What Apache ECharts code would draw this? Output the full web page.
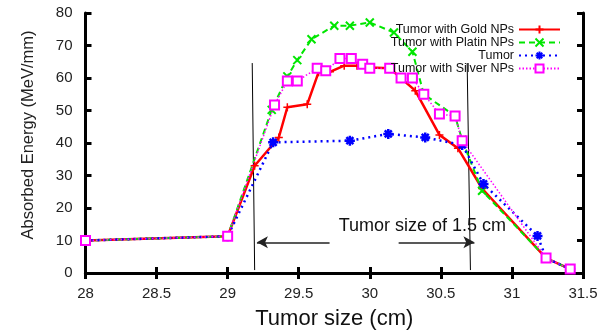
<!DOCTYPE html>
<html>
<head>
<meta charset="utf-8">
<script src="https://cdn.jsdelivr.net/npm/echarts@6/dist/echarts.min.js"></script>
<style>
  html, body { margin: 0; padding: 0; background: #fff; }
  #main { width: 615px; height: 333px; }
</style>
</head>
<body>
<div id="main"></div>
<script>
// data
var goldX = [28, 29, 29.19, 29.36, 29.42, 29.56, 29.64, 29.72, 29.82, 29.91, 30.0, 30.14, 30.32, 30.49, 30.62, 30.79, 31.24, 31.41];
var goldY = [10, 11.3, 33, 41.7, 51, 51.9, 61.8, 61.9, 63.8, 63.8, 63.2, 63, 56.1, 42.5, 38.4, 26, 4.6, 1.2];

var platinX = [28, 29, 29.31, 29.42, 29.49, 29.59, 29.75, 29.86, 30.0, 30.17, 30.30, 30.38, 30.6, 30.65, 30.79, 31.24, 31.41];
var platinY = [10, 11.3, 50.2, 60.5, 65.5, 71.9, 76.1, 76.1, 77.1, 74, 68.1, 55, 48.3, 40.9, 25.3, 4.6, 1.2];

var tumorX = [28, 29, 29.32, 29.86, 30.13, 30.39, 30.65, 30.8, 31.18, 31.24, 31.41];
var tumorY = [10, 11.3, 40.2, 40.7, 42.8, 41.7, 39.4, 27.4, 11.4, 4.6, 1.2];

var silverX = [28, 29, 29.33, 29.42, 29.49, 29.63, 29.69, 29.79, 29.87, 29.95, 30.0, 30.14, 30.22, 30.3, 30.38, 30.49, 30.6, 30.65, 31.24, 31.41];
var silverY = [10, 11.3, 51.7, 59.1, 59.1, 63, 62.2, 66, 66, 64.2, 63, 63, 60, 60, 55, 48.9, 48.3, 40.7, 4.6, 1.2];

var names = ['Tumor with Gold NPs', 'Tumor with Platin NPs', 'Tumor', 'Tumor with Silver NPs'];

// tumor borders (1.5 cm) and arrows
var leftBorder = [[29.173, 64.6], [29.19, 0.9]];
var rightBorder = [[30.685, 64.6], [30.708, 0.9]];
var leftArrow = [[29.717, 9.45], [29.206, 9.45]];
var rightArrow = [[30.203, 9.45], [30.736, 9.45]];
var noteText = 'Tumor size of 1.5 cm';
var notePos = [30.37, 14.6];

function pairs(xs, ys) {
  var out = [];
  for (var i = 0; i < xs.length; i++) out.push([xs[i], ys[i]]);
  return out;
}

var font = 'Liberation Sans';
var plus = 'path://M5,0L5,10M0,5L10,5';
var cross = 'path://M0,0L10,10M10,0L0,10';
var aster = 'path://M5,0L5,10M0,5L10,5M1.5,1.5L8.5,8.5M8.5,1.5L1.5,8.5';

var myChart = echarts.init(document.getElementById('main'));

function axisX(pos, showLabel) {
  return {
    type: 'value', position: pos, min: 28, max: 31.5, interval: 0.5,
    name: showLabel ? 'Tumor size (cm)' : '',
    nameLocation: 'middle', nameGap: 35,
    nameTextStyle: { fontFamily: font, fontSize: 22, color: '#111' },
    axisLine: { show: true, lineStyle: { color: '#000', width: 3 } },
    axisTick: { show: true, inside: true, length: 6, lineStyle: { color: '#000', width: 3 } },
    axisLabel: { show: showLabel, margin: 13, fontFamily: font, fontSize: 15, color: '#222' },
    splitLine: { show: false }
  };
}
function axisY(pos, showLabel) {
  return {
    type: 'value', position: pos, min: 0, max: 80, interval: 10,
    name: showLabel ? 'Absorbed Energy (MeV/mm)' : '',
    nameLocation: 'middle', nameGap: 49,
    nameTextStyle: { fontFamily: font, fontSize: 16.5, color: '#222', padding: [0, 0, 0, 16] },
    axisLine: { show: true, lineStyle: { color: '#000', width: 3 } },
    axisTick: { show: true, inside: true, length: 6, lineStyle: { color: '#000', width: 3 } },
    axisLabel: { show: showLabel, margin: 13, fontFamily: font, fontSize: 15, color: '#222' },
    splitLine: { show: false }
  };
}

function helper(data) {
  return {
    type: 'line', data: data, symbol: 'none', silent: true,
    lineStyle: { color: '#000', width: 1 }, z: 1
  };
}

var option = {
  animation: false,
  backgroundColor: '#fff',
  grid: { left: 85.5, right: 32, top: 13, bottom: 60, outerBoundsMode: 'none' },
  xAxis: [axisX('bottom', true), axisX('top', false)],
  yAxis: [axisY('left', true), axisY('right', false)],
  legend: {
    data: names, orient: 'vertical', align: 'right',
    right: 49, top: 18, itemWidth: 41, itemHeight: 10, itemGap: 0,
    textStyle: { fontFamily: font, fontSize: 12.5, lineHeight: 10, color: '#111' }
  },
  series: [
    {
      name: names[0], type: 'line', data: pairs(goldX, goldY),
      symbol: plus, symbolSize: 8, color: '#ff0000',
      itemStyle: { color: '#ff0000', borderColor: '#ff0000', borderWidth: 1.5 },
      lineStyle: { color: '#ff0000', width: 2.5 }, z: 3
    },
    {
      name: names[1], type: 'line', data: pairs(platinX, platinY),
      symbol: cross, symbolSize: 8, color: '#00e600',
      itemStyle: { color: '#00e600', borderColor: '#00e600', borderWidth: 2 },
      lineStyle: { color: '#00e600', width: 2, type: [6, 4] }, z: 3
    },
    {
      name: names[2], type: 'line', data: pairs(tumorX, tumorY),
      symbol: aster, symbolSize: 10, color: '#0000ff',
      itemStyle: { color: '#0000ff', borderColor: '#0000ff', borderWidth: 2.5 },
      lineStyle: { color: '#0000ff', width: 2.5, type: [2, 4] }, z: 3
    },
    {
      name: names[3], type: 'line', data: pairs(silverX, silverY),
      symbol: 'emptyRect', symbolSize: 9, color: '#ff00ff',
      itemStyle: { color: '#ff00ff', borderColor: '#ff00ff', borderWidth: 2 },
      lineStyle: { color: '#ff00ff', width: 1.5, type: [1.5, 2] }, z: 3
    },
    helper(leftBorder),
    helper(rightBorder),
    {
      type: 'line', data: [], silent: true,
      markLine: {
        silent: true, symbol: ['none', 'arrow'], symbolSize: [9, 11],
        lineStyle: { color: '#222', width: 1.5, type: 'solid' },
        label: { show: false },
        data: [
          [{ coord: leftArrow[0] }, { coord: leftArrow[1] }],
          [{ coord: rightArrow[0] }, { coord: rightArrow[1] }]
        ]
      },
      markPoint: {
        silent: true, symbol: 'circle', symbolSize: 1,
        itemStyle: { color: 'rgba(0,0,0,0)' },
        label: { show: true, position: 'inside', formatter: noteText, fontFamily: font, fontSize: 18, color: '#111' },
        data: [{ coord: notePos }]
      }
    }
  ]
};

myChart.setOption(option);
</script>
</body>
</html>
